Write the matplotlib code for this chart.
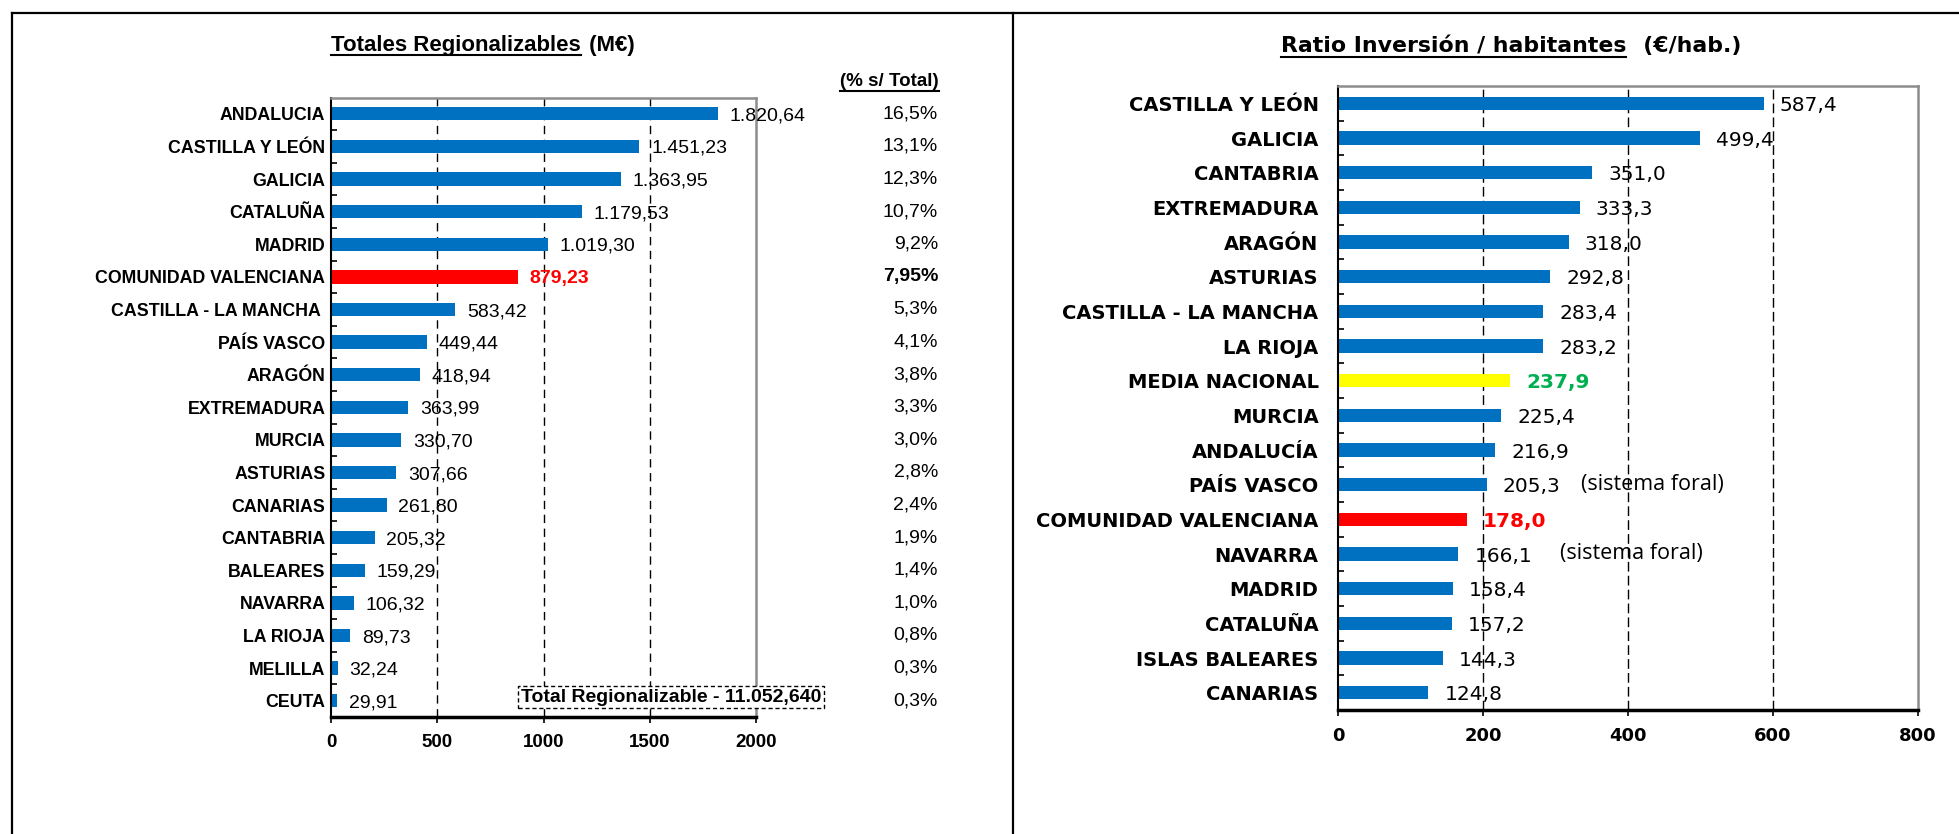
import matplotlib
matplotlib.use("Agg")
import matplotlib.pyplot as plt
import matplotlib.transforms as mtransforms
from matplotlib.lines import Line2D

plt.rcParams['font.family'] = ['Liberation Sans', 'DejaVu Sans']

W, H = 1959, 834

# --- datos panel izquierdo: totales regionalizables (M€)
regiones_tot = ['ANDALUCIA', 'CASTILLA Y LEÓN', 'GALICIA', 'CATALUÑA', 'MADRID',
                'COMUNIDAD VALENCIANA', 'CASTILLA - LA MANCHA ', 'PAÍS VASCO', 'ARAGÓN',
                'EXTREMADURA', 'MURCIA', 'ASTURIAS', 'CANARIAS', 'CANTABRIA', 'BALEARES',
                'NAVARRA', 'LA RIOJA', 'MELILLA', 'CEUTA']
totales = [1820.64, 1451.23, 1363.95, 1179.53, 1019.30, 879.23, 583.42, 449.44, 418.94,
           363.99, 330.70, 307.66, 261.80, 205.32, 159.29, 106.32, 89.73, 32.24, 29.91]
pct_total = ['16,5%', '13,1%', '12,3%', '10,7%', '9,2%', '7,95%', '5,3%', '4,1%', '3,8%',
             '3,3%', '3,0%', '2,8%', '2,4%', '1,9%', '1,4%', '1,0%', '0,8%', '0,3%', '0,3%']
total_regionalizable = '11.052,640'
ticks_tot = [0, 500, 1000, 1500, 2000]

# --- datos panel derecho: ratio inversión / habitante (€/hab.)
regiones_ratio = ['CASTILLA Y LEÓN', 'GALICIA', 'CANTABRIA', 'EXTREMADURA', 'ARAGÓN',
                  'ASTURIAS', 'CASTILLA - LA MANCHA', 'LA RIOJA', 'MEDIA NACIONAL', 'MURCIA',
                  'ANDALUCÍA', 'PAÍS VASCO', 'COMUNIDAD VALENCIANA', 'NAVARRA', 'MADRID',
                  'CATALUÑA', 'ISLAS BALEARES', 'CANARIAS']
ratios = [587.4, 499.4, 351.0, 333.3, 318.0, 292.8, 283.4, 283.2, 237.9, 225.4,
          216.9, 205.3, 178.0, 166.1, 158.4, 157.2, 144.3, 124.8]
forales = ['PAÍS VASCO', 'NAVARRA']
ticks_ratio = [0, 200, 400, 600, 800]

AZUL = '#0070C0'
ROJO = '#FF0000'
AMARILLO = '#FFFF00'
VERDE = '#00B050'
ANCHA = ['DejaVu Sans']   # el panel derecho tiene el texto más ancho


def fmt_es(v, dec):
    s = f"{v:,.{dec}f}"
    return s.replace(',', 'X').replace('.', ',').replace('X', '.')


def px(x, y):
    return x / W, 1 - y / H


def estilo_ejes(ax, ticks, patron, pad_y, fs_tick, fam):
    ax.set_xlim(ticks[0], ticks[-1])
    ax.set_xticks(ticks)
    ax.set_xticklabels([str(t) for t in ticks], fontweight='bold', fontsize=fs_tick, family=fam)
    ax.tick_params(axis='x', direction='out', length=4, width=1.2, pad=8)
    ax.tick_params(axis='y', which='major', length=0, pad=pad_y)
    ax.tick_params(axis='y', which='minor', direction='in', length=4, width=1.2)
    for t in ticks[1:-1]:
        ax.axvline(t, color='black', lw=1.0, ls=patron, zorder=1)
    ax.spines['left'].set_linewidth(1.5)
    ax.spines['bottom'].set_linewidth(2.5)
    for s in ['top', 'right']:
        ax.spines[s].set_color('#8c8c8c')
        ax.spines[s].set_linewidth(1.8)


fig = plt.figure(figsize=(W / 100, H / 100), dpi=100)

# ---------------- panel izquierdo
ax1 = fig.add_axes([331 / W, 1 - 717 / H, 425 / W, 619.5 / H])
n1 = len(regiones_tot)
y1 = list(range(n1))
col1 = [ROJO if r == 'COMUNIDAD VALENCIANA' else AZUL for r in regiones_tot]
ax1.barh(y1, totales, height=0.41, color=col1, zorder=2)
ax1.set_ylim(n1 - 0.5, -0.5)
ax1.set_yticks(y1)
ax1.set_yticklabels(regiones_tot, fontweight='bold', fontsize=12.8)
ax1.set_yticks([i + 0.5 for i in range(n1 - 1)], minor=True)
estilo_ejes(ax1, ticks_tot, (0, (6, 4)), 4, 13.5, ['Liberation Sans'])

trans1 = mtransforms.blended_transform_factory(fig.transFigure, ax1.transData)
for i, (r, v, p) in enumerate(zip(regiones_tot, totales, pct_total)):
    dest = r == 'COMUNIDAD VALENCIANA'
    ax1.annotate(fmt_es(v, 2), (v, i), xytext=(8.5, -1.5), textcoords='offset points',
                 va='center', ha='left', fontsize=14,
                 color=ROJO if dest else 'black', fontweight='bold' if dest else 'normal',
                 zorder=3)
    ax1.text(938 / W, i, p, transform=trans1, ha='right', va='center', fontsize=14,
             fontweight='bold' if dest else 'normal')

fig.text(*px(671, 697), 'Total Regionalizable - ' + total_regionalizable,
         ha='center', va='center', fontsize=14, fontweight='bold',
         bbox=dict(boxstyle='square,pad=0.15', fc='white', ec='black', lw=1.0, ls=(0, (3, 2))))

# ---------------- panel derecho
ax2 = fig.add_axes([1338 / W, 1 - 710 / H, 580 / W, 624 / H])
n2 = len(regiones_ratio)
y2 = list(range(n2))
col2 = []
for r in regiones_ratio:
    if r == 'COMUNIDAD VALENCIANA':
        col2.append(ROJO)
    elif r == 'MEDIA NACIONAL':
        col2.append(AMARILLO)
    else:
        col2.append(AZUL)
ax2.barh(y2, ratios, height=0.38, color=col2, zorder=2)
ax2.set_ylim(n2 - 0.5, -0.5)
ax2.set_yticks(y2)
ax2.set_yticklabels(regiones_ratio, fontweight='bold', fontsize=14, family=ANCHA)
ax2.set_yticks([i + 0.5 for i in range(n2 - 1)], minor=True)
estilo_ejes(ax2, ticks_ratio, (0, (7, 3)), 14, 13, ANCHA)

for i, (r, v) in enumerate(zip(regiones_ratio, ratios)):
    if r == 'COMUNIDAD VALENCIANA':
        c, w = ROJO, 'bold'
    elif r == 'MEDIA NACIONAL':
        c, w = VERDE, 'bold'
    else:
        c, w = 'black', 'normal'
    ax2.annotate(fmt_es(v, 1), (v, i), xytext=(11.5, -1.5), textcoords='offset points',
                 va='center', ha='left', fontsize=14.5, color=c, fontweight=w, zorder=3,
                 family=ANCHA)

foral_x = {'PAÍS VASCO': 335, 'NAVARRA': 306}
for r in forales:
    i = regiones_ratio.index(r)
    ax2.text(foral_x[r], i, '(sistema foral)', va='center', ha='left', fontsize=15.5,
             family=['Open Sans', 'DejaVu Sans'])

# ---------------- títulos subrayados
fig.canvas.draw()
ren = fig.canvas.get_renderer()


def titulo(x, y, subr, resto, fs, fam, uy):
    t = fig.text(*px(x, y), subr, ha='left', va='center', fontsize=fs, fontweight='bold',
                 family=fam)
    bb = t.get_window_extent(ren)
    fig.add_artist(Line2D([bb.x0 / W, bb.x1 / W], [1 - uy / H] * 2, color='black', lw=1.5,
                          transform=fig.transFigure))
    if resto:
        fig.text((bb.x1 + 2) / W, px(x, y)[1], resto, ha='left', va='center', fontsize=fs,
                 fontweight='bold', family=fam)


titulo(331, 45, 'Totales Regionalizables', ' (M€)', 16, ['Liberation Sans'], 55)
titulo(1281, 46, 'Ratio Inversión / habitantes', '  (€/hab.)', 15.8, ANCHA, 57)
titulo(840, 82, '(% s/ Total)', '', 13.5, ['Liberation Sans'], 91)

# ---------------- marco
for xs, ys in [([12, W], [13, 13]), ([12, 12], [13, H]), ([1013, 1013], [13, H])]:
    fig.add_artist(Line2D([x / W for x in xs], [1 - y / H for y in ys], color='black',
                          lw=1.6, transform=fig.transFigure))

fig.savefig('out.png', dpi=100, facecolor='white')
